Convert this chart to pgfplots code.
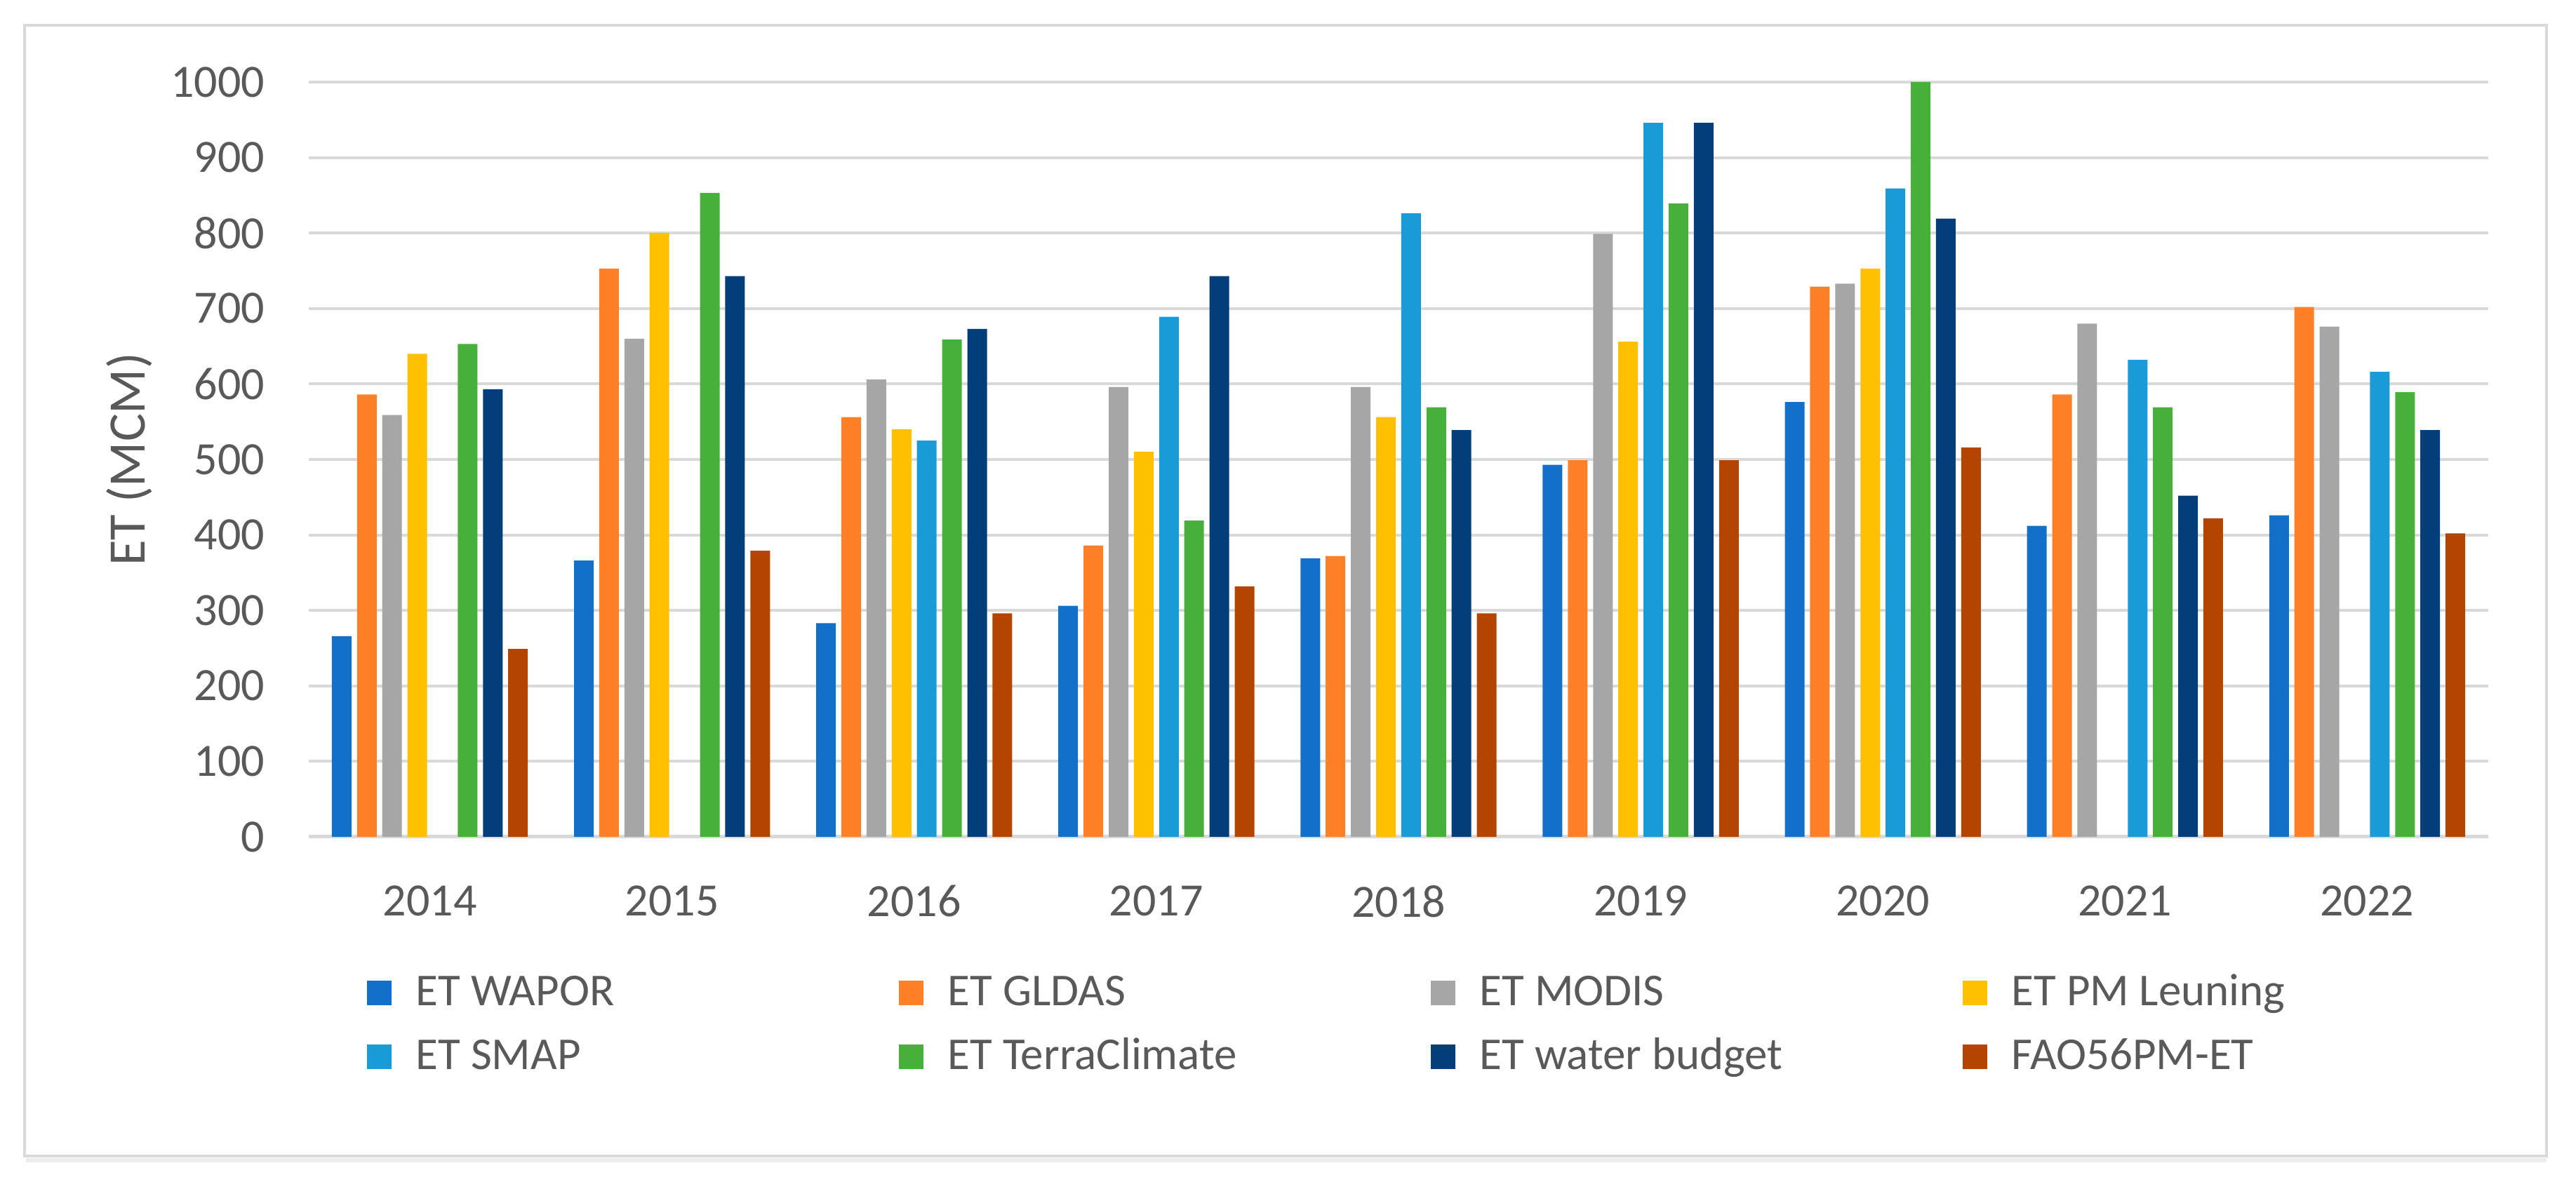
\documentclass[border=0pt]{standalone}
\usepackage{fontspec}
\setmainfont{Carlito}
\usepackage{pgfplots}
\pgfplotsset{compat=1.18}
\definecolor{cWapor}{RGB}{18,112,200}
\definecolor{cGldas}{RGB}{255,128,38}
\definecolor{cModis}{RGB}{166,166,166}
\definecolor{cPM}{RGB}{255,192,0}
\definecolor{cSmap}{RGB}{25,155,215}
\definecolor{cTerra}{RGB}{70,176,59}
\definecolor{cWB}{RGB}{2,62,122}
\definecolor{cFao}{RGB}{180,69,0}
\definecolor{gridgray}{RGB}{217,217,217}
\definecolor{textgray}{RGB}{89,89,89}
\newcommand\tickfont{\fontsize{13.2}{15.8}\selectfont}
\newcommand\legfont{\fontsize{13}{15.6}\selectfont}
\newcommand\LE[1]{\makebox[106pt][l]{#1}}
\begin{document}
\begin{tikzpicture}
\begin{axis}[
  at={(0,0)}, anchor=south west,
  scale only axis, width=621.2pt, height=215.2pt,
  xmin=-0.5, xmax=8.5, ymin=0, ymax=1000,
  ybar, bar width=5.6pt,
  xtick={0,1,2,3,4,5,6,7,8},
  xticklabels={2014,2015,2016,2017,2018,2019,2020,2021,2022},
  ytick={0,100,200,300,400,500,600,700,800,900,1000},
  yticklabels={0,100,200,300,400,500,600,700,800,900,1000},
  axis x line*=bottom, axis y line*=left,
  y axis line style={draw=none},
  x axis line style={draw=gridgray, line width=1pt},
  tick style={draw=none},
  ymajorgrids, grid style={draw=gridgray, line width=0.8pt},
  tick label style={font=\tickfont, text=textgray, inner sep=0pt},
  yticklabel style={anchor=east, xshift=-12.4pt},
  xticklabel style={anchor=north, yshift=-9.4pt},
  ylabel={ET (MCM)},
  ylabel style={at={(axis description cs:-0.0824,0.5)}, anchor=center, font=\fontsize{15}{18}\selectfont, text=textgray, inner sep=0pt},
  legend columns=4,
  legend cell align=left,
  legend image code/.code={\fill[#1] (0pt,-3.5pt) rectangle (7pt,3.5pt);},
  legend style={at={(axis description cs:0.02672,-0.1766)}, anchor=north west,
    draw=none, fill=none, inner sep=0pt, outer sep=0pt,
    font=\legfont, text=textgray,
    nodes={inner sep=0pt, text height=10pt, text depth=3pt},
    row sep=5.2pt,
    /tikz/every odd column/.append style={column sep=7pt},
    /tikz/every even column/.append style={column sep=31.6pt}},
]
\addplot[fill=cWapor, draw=none, bar shift=-25.13pt] coordinates {(0,266) (1,366) (2,283) (3,306) (4,369) (5,493) (6,576) (7,412) (8,426)};
\addlegendentry{\LE{ET WAPOR}}
\addplot[fill=cGldas, draw=none, bar shift=-17.95pt] coordinates {(0,586) (1,753) (2,556) (3,386) (4,372) (5,499) (6,729) (7,586) (8,702)};
\addlegendentry{\LE{ET GLDAS}}
\addplot[fill=cModis, draw=none, bar shift=-10.77pt] coordinates {(0,559) (1,660) (2,606) (3,596) (4,596) (5,799) (6,733) (7,680) (8,676)};
\addlegendentry{\LE{ET MODIS}}
\addplot[fill=cPM, draw=none, bar shift=-3.59pt] coordinates {(0,640) (1,800) (2,540) (3,510) (4,556) (5,656) (6,753)};
\addlegendentry{\LE{ET PM Leuning}}
\addplot[fill=cSmap, draw=none, bar shift=3.59pt] coordinates {(2,525) (3,689) (4,826) (5,946) (6,859) (7,632) (8,616)};
\addlegendentry{\LE{ET SMAP}}
\addplot[fill=cTerra, draw=none, bar shift=10.77pt] coordinates {(0,653) (1,853) (2,659) (3,419) (4,569) (5,839) (6,1000) (7,569) (8,589)};
\addlegendentry{\LE{ET TerraClimate}}
\addplot[fill=cWB, draw=none, bar shift=17.95pt] coordinates {(0,593) (1,743) (2,673) (3,743) (4,539) (5,946) (6,819) (7,452) (8,539)};
\addlegendentry{\LE{ET water budget}}
\addplot[fill=cFao, draw=none, bar shift=25.13pt] coordinates {(0,249) (1,379) (2,296) (3,332) (4,296) (5,499) (6,516) (7,422) (8,402)};
\addlegendentry{\LE{FAO56PM-ET}}
\end{axis}
\draw[gridgray, line width=0.7pt] (-81pt,-91pt) rectangle (637.8pt,231.4pt);
\draw[gridgray!50, line width=1.2pt] (-80.5pt,-92.2pt) -- (637.8pt,-92.2pt);
\pgfresetboundingbox
\useasboundingbox (-88pt,-100.4pt) rectangle (646.2pt,238.6pt);
\end{tikzpicture}
\end{document}
